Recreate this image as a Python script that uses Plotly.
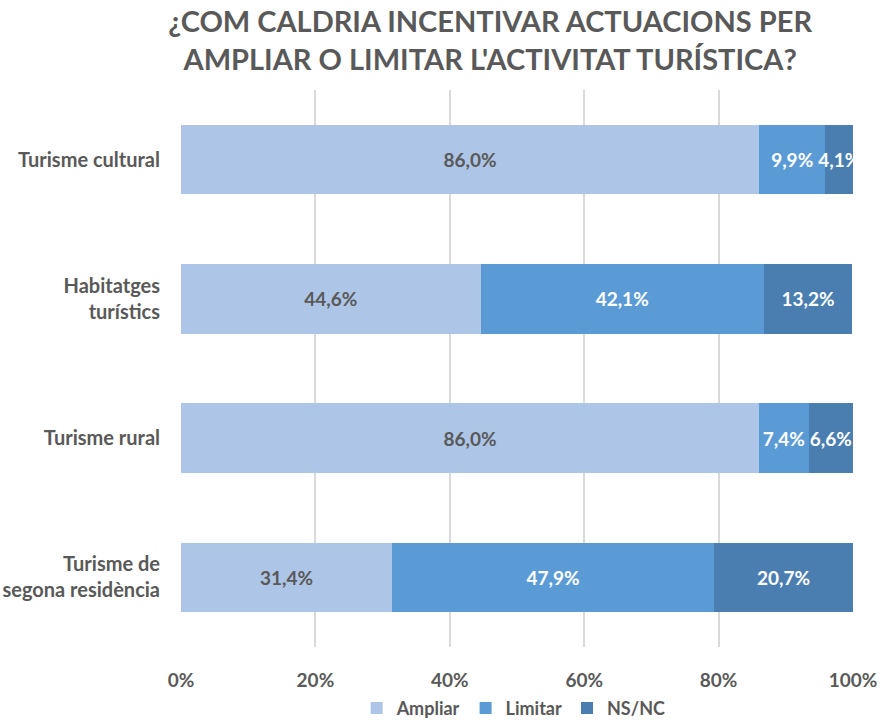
import plotly.graph_objects as go

categories = ["Turisme cultural", "Habitatges<br>turístics", "Turisme rural", "Turisme de<br>segona residència"]
ampliar = [86.0, 44.6, 86.0, 31.4]
limitar = [9.9, 42.1, 7.4, 47.9]
nsnc = [4.1, 13.2, 6.6, 20.7]
tick_vals = [0, 20, 40, 60, 80, 100]
tick_text = ["0%", "20%", "40%", "60%", "80%", "100%"]

FONT = "Lato"
GRAY = "#595959"

series = [
    ("Ampliar", ampliar, "#adc5e6", GRAY),
    ("Limitar", limitar, "#5b9bd5", "white"),
    ("NS/NC", nsnc, "#4a7eb0", "white"),
]

fig = go.Figure()
for name, vals, color, tcolor in series:
    fig.add_trace(go.Bar(
        y=categories, x=vals, name=name, orientation="h",
        marker=dict(color=color, line=dict(width=0)),
        text=[f"{v:.1f}%".replace(".", ",") for v in vals],
        textposition="inside", insidetextanchor="middle", textangle=0,
        textfont=dict(family=FONT, size=19, color=tcolor, weight="bold"),
        constraintext="none", cliponaxis=True,
    ))

fig.update_layout(
    barmode="stack", bargap=0.5,
    width=880, height=720,
    margin=dict(l=181, r=27, t=90, b=73, autoexpand=False),
    paper_bgcolor="white", plot_bgcolor="white",
    font=dict(family=FONT, color=GRAY),
    showlegend=True,
    legend=dict(orientation="h", x=0.495, xref="paper", xanchor="center",
                y=-0.11, yanchor="middle",
                font=dict(family=FONT, size=18, color=GRAY, weight="bold"),
                itemwidth=30, entrywidth=0, traceorder="normal"),
    title=dict(text="¿COM CALDRIA INCENTIVAR ACTUACIONS PER<br>AMPLIAR O LIMITAR L'ACTIVITAT TURÍSTICA?",
               x=0.557, xref="container", xanchor="center",
               y=0.955, yref="container", yanchor="middle",
               font=dict(family=FONT, size=29, color=GRAY, weight="bold")),
)
fig.update_xaxes(range=[0, 100], tickvals=tick_vals, ticktext=tick_text,
                 showgrid=True, gridcolor="#d9d9d9", gridwidth=2,
                 zeroline=False, showline=False, automargin=False,
                 tickfont=dict(family=FONT, size=19, color=GRAY, weight="bold"),
                 ticklabelstandoff=20, fixedrange=True)
fig.update_yaxes(autorange="reversed", showgrid=False, showline=False, automargin=False,
                 tickfont=dict(family=FONT, size=20, color=GRAY, weight="bold"),
                 ticklabelstandoff=20, fixedrange=True)

fig.write_html("out.html", config={"displayModeBar": False},
               post_script="document.body.style.margin='0';")
